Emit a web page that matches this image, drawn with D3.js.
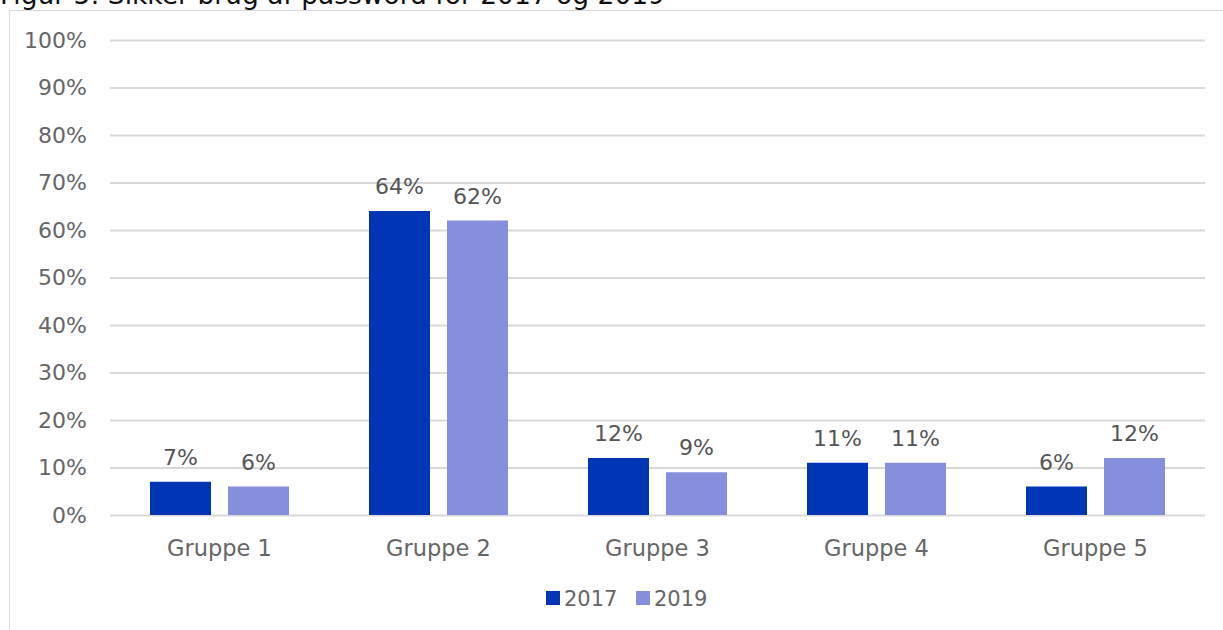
<!DOCTYPE html>
<html><head><meta charset="utf-8">
<script src="https://cdn.jsdelivr.net/npm/d3@7"></script>
<style>body{margin:0;background:#fff}svg{display:block}</style>
</head><body>
<svg id="c" width="1223" height="630"></svg>
<script>
const categories = ["Gruppe 1","Gruppe 2","Gruppe 3","Gruppe 4","Gruppe 5"];
const seriesNames = ["2017","2019"];
const values2017 = [7,64,12,11,6];
const values2019 = [6,62,9,11,12];
const yTicks = [0,10,20,30,40,50,60,70,80,90,100];
const title = "Figur 5: Sikker brug af password for 2017 og 2019";
const colors = ["#0036b5","#868fdc"];

const svg = d3.select("#c");
const font = "'DejaVu Sans', sans-serif";
const textCol = "#666666";

svg.append("text").attr("x",0).attr("y",4).attr("font-family",font).attr("font-size",26.5)
  .attr("fill","#111").text(title);

// chart border
svg.append("rect").attr("x",9.5).attr("y",10.5).attr("width",1300).attr("height",700)
  .attr("fill","none").attr("stroke","#d9d9d9");

const x = d3.scaleBand().domain(categories).range([110,1205]);
const y = d3.scaleLinear().domain([0,100]).range([515,40]);
const sub = d3.scaleBand().domain(seriesNames).range([40,179]).paddingInner(17/78);

// grid
svg.append("g").selectAll("line").data(yTicks).join("line")
  .attr("x1",110).attr("x2",1205).attr("y1",d=>y(d)+0.5).attr("y2",d=>y(d)+0.5)
  .attr("stroke","#d9d9d9").attr("stroke-width",2);

svg.append("g").selectAll("text").data(yTicks).join("text")
  .attr("x",87).attr("y",d=>y(d)).attr("dy","0.36em").attr("text-anchor","end")
  .attr("font-family",font).attr("font-size",22).attr("fill",textCol).text(d=>d+"%");

const series = [values2017, values2019];
series.forEach((vals,si)=>{
  const g = svg.append("g");
  g.selectAll("rect").data(categories).join("rect")
    .attr("x",(c)=>x(c)+sub(seriesNames[si])).attr("width",sub.bandwidth())
    .attr("y",(c,i)=>y(vals[i])).attr("height",(c,i)=>y(0)-y(vals[i]))
    .attr("fill",colors[si]);
  g.selectAll("text").data(categories).join("text")
    .attr("x",(c)=>x(c)+sub(seriesNames[si])+sub.bandwidth()/2)
    .attr("y",(c,i)=>y(vals[i])-17).attr("text-anchor","middle")
    .attr("font-family",font).attr("font-size",22).attr("fill","#555").text((c,i)=>vals[i]+"%");
});

svg.append("g").selectAll("text").data(categories).join("text")
  .attr("x",c=>x(c)+x.bandwidth()/2).attr("y",548).attr("dy","0.36em").attr("text-anchor","middle")
  .attr("font-family",font).attr("font-size",22.5).attr("fill",textCol).text(d=>d);

// legend
const leg = svg.append("g");
const legX = [546,636];
seriesNames.forEach((s,i)=>{
  leg.append("rect").attr("x",legX[i]).attr("y",591).attr("width",14).attr("height",14).attr("fill",colors[i]);
  leg.append("text").attr("x",legX[i]+18).attr("y",598).attr("dy","0.36em")
    .attr("font-family",font).attr("font-size",21).attr("fill",textCol).text(s);
});
</script>
</body></html>
